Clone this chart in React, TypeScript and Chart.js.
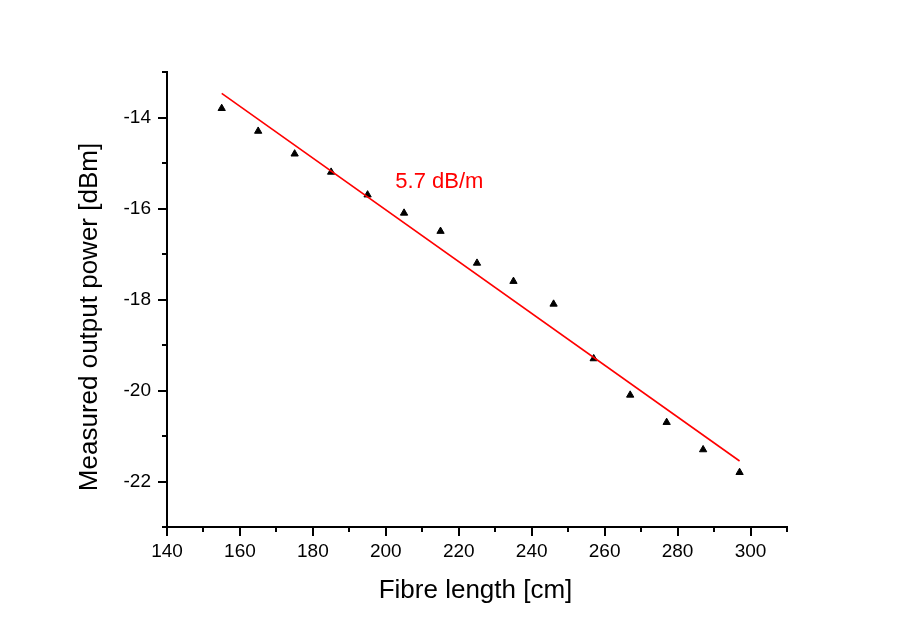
import React, { useEffect, useRef } from 'react';
import { Chart, registerables } from 'chart.js';

Chart.register(...registerables);

// ---- data ----
const fibreLength = [155, 165, 175, 185, 195, 205, 215, 225, 235, 246, 257, 267, 277, 287, 297];
const measuredPower = [-13.8, -14.3, -14.8, -15.2, -15.7, -16.1, -16.5, -17.2, -17.6, -18.1, -19.3, -20.1, -20.7, -21.3, -21.8];
const fitLength = [155, 297];
const fitPower = [-13.47, -21.55];
const slopeLabel = '5.7 dB/m';
const slopeLabelPos = [202.6, -15.42];
const xRange = [140, 310];
const yRange = [-23, -13];
const xMajorStep = 20;
const xMinorStep = 10;
const yMajorStep = 2;
const yMinorStep = 1;
const xTitle = 'Fibre length [cm]';
const yTitle = 'Measured output power [dBm]';

const FONT = '"Liberation Sans", Arial, Helvetica, sans-serif';

const isMajor = (v: number, step: number) => Math.abs(v / step - Math.round(v / step)) < 1e-6;

const decorPlugin = {
  id: 'decor',
  afterDraw(chart: any) {
    const { ctx, scales } = chart;
    const xs = scales.x;
    const ys = scales.y;
    ctx.save();
    ctx.strokeStyle = '#000';
    ctx.lineWidth = 2;
    // x ticks
    for (const t of xs.ticks) {
      const px = Math.round(xs.getPixelForValue(t.value));
      const len = isMajor(t.value, xMajorStep) ? 9 : 5;
      ctx.beginPath();
      ctx.moveTo(px, ys.bottom);
      ctx.lineTo(px, ys.bottom + len);
      ctx.stroke();
    }
    // y ticks
    for (const t of ys.ticks) {
      const py = Math.round(ys.getPixelForValue(t.value));
      const len = isMajor(t.value, yMajorStep) ? 9 : 5;
      ctx.beginPath();
      ctx.moveTo(xs.left, py);
      ctx.lineTo(xs.left - len, py);
      ctx.stroke();
    }
    // slope annotation
    ctx.fillStyle = '#ff0000';
    ctx.font = `22px ${FONT}`;
    ctx.textAlign = 'left';
    ctx.textBaseline = 'middle';
    ctx.fillText(slopeLabel, xs.getPixelForValue(slopeLabelPos[0]), ys.getPixelForValue(slopeLabelPos[1]));
    // axis titles
    ctx.fillStyle = '#000';
    ctx.font = `26px ${FONT}`;
    ctx.textAlign = 'center';
    ctx.textBaseline = 'alphabetic';
    ctx.fillText(xTitle, 475.5, 598);
    ctx.translate(96.7, 317);
    ctx.rotate(-Math.PI / 2);
    ctx.fillText(yTitle, 0, 0);
    ctx.restore();
  },
};

export default function App() {
  const ref = useRef<HTMLCanvasElement | null>(null);
  useEffect(() => {
    if (!ref.current) return;
    Chart.defaults.font.family = FONT;
    const chart = new Chart(ref.current, {
      type: 'scatter',
      data: {
        datasets: [
          {
            label: 'fit',
            data: fitLength.map((x, i) => ({ x, y: fitPower[i] })),
            showLine: true,
            borderColor: '#ff0000',
            borderWidth: 1.6,
            pointRadius: 0,
            fill: false,
          },
          {
            label: 'measured',
            data: fibreLength.map((x, i) => ({ x, y: measuredPower[i] })),
            pointStyle: 'triangle',
            pointRadius: 4.2,
            backgroundColor: '#000',
            borderColor: '#000',
            borderWidth: 1,
            showLine: false,
          },
        ],
      },
      options: {
        responsive: false,
        animation: false,
        layout: { padding: { top: 72, right: 110, left: 0, bottom: 0 } },
        plugins: { legend: { display: false }, tooltip: { enabled: false } },
        scales: {
          x: {
            type: 'linear',
            min: xRange[0],
            max: xRange[1],
            grid: { display: false, drawTicks: false },
            border: { display: true, color: '#000', width: 2 },
            ticks: {
              stepSize: xMinorStep,
              autoSkip: false,
              maxRotation: 0,
              padding: 13,
              color: '#000',
              font: { size: 19, family: FONT },
              callback: (v: any) => (isMajor(Number(v), xMajorStep) ? String(v) : ''),
            },
            afterFit: (s: any) => { s.height = 98; },
          },
          y: {
            type: 'linear',
            min: yRange[0],
            max: yRange[1],
            grid: { display: false, drawTicks: false },
            border: { display: true, color: '#000', width: 2 },
            ticks: {
              stepSize: yMinorStep,
              autoSkip: false,
              padding: 16,
              color: '#000',
              font: { size: 19, family: FONT },
              callback: (v: any) => (isMajor(Number(v), yMajorStep) ? String(v) : ''),
            },
            afterFit: (s: any) => { s.width = 167; },
          },
        },
      },
      plugins: [decorPlugin],
    });
    return () => chart.destroy();
  }, []);
  return (
    <div style={{ position: 'fixed', left: 0, top: 0, width: 897, height: 625, background: '#fff' }}>
      <canvas ref={ref} width={897} height={625} />
    </div>
  );
}
